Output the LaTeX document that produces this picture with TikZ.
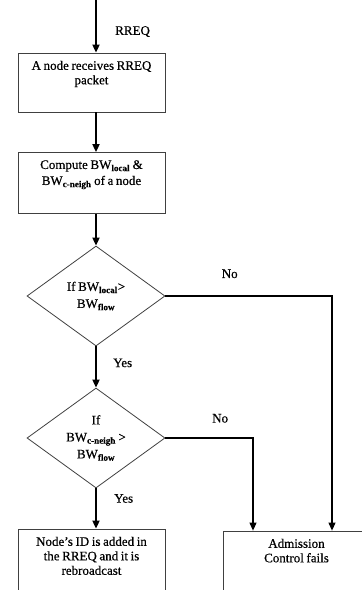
\documentclass[tikz,border=0pt]{standalone}
\usepackage{fontspec}
\setmainfont{Liberation Serif}[FakeBold=0.5,WordSpace=0.8]
\usetikzlibrary{shapes.geometric,arrows.meta}

\newcommand{\bwsub}[1]{BW\textsubscript{\textbf{#1}}}

\begin{document}
\begin{tikzpicture}[x=1pt,y=-1pt,
    font=\fontsize{13}{14.5}\selectfont,
    flow/.style={-{Triangle[length=8pt,width=7pt]},line width=1.8pt},
    side/.style={-{Triangle[length=8pt,width=7pt]},line width=1.1pt},
    stepbox/.style={draw=black!75,line width=0.8pt,minimum width=147pt,inner sep=0pt},
    boxtext/.style={anchor=north,align=center,inner sep=0pt,yshift=-8pt},
    test/.style={diamond,draw=black!75,line width=0.8pt,aspect=1.38,
        minimum width=138pt,minimum height=100pt,inner sep=0pt,align=center,
        font=\fontsize{13}{17}\selectfont}]
    \useasboundingbox (0,0) rectangle (362,590);
    \clip (0,0) rectangle (362,590);

    \coordinate (in) at (96,0);
    \node (recv) at (91.5,82.5) [stepbox,minimum height=59pt,
        label={[boxtext]north:A node receives RREQ\\packet}] {};
    \node (comp) at (91.5,183) [stepbox,minimum height=61pt,
        label={[boxtext]north:Compute \bwsub{local} \&\\[1.5pt]\bwsub{c-neigh} of a node}] {};
    \node (dec1) at (96,296) [test] {\raisebox{-3pt}{\begin{tabular}{@{}c@{}}If \bwsub{local}>\\\bwsub{flow}\end{tabular}}};
    \node (dec2) at (96,438) [test] {If\\\bwsub{c-neigh} >\\\bwsub{flow}};
    \node (add) at (91.5,569) [stepbox,minimum height=80pt,
        label={[boxtext]north:Node’s ID is added in\\the RREQ and it is\\rebroadcast}] {};
    \node (fail) at (296.5,571) [stepbox,minimum height=80pt,
        label={[boxtext]north:Admission\\Control fails}] {};

    \draw[flow] (in) -- (recv.north -| in) node[pos=0.6,right=15pt] {RREQ};
    \draw[flow] (recv.south -| in) -- (comp.north -| in);
    \draw[flow] (comp.south -| in) -- (dec1.north);
    \draw[flow] (dec1.south) -- (dec2.north) node[pos=0.4,right=13pt] {Yes};
    \draw[flow] (dec2.south) -- (add.north -| in) node[pos=0.25,right=14pt] {Yes};
    \draw[side] (dec1.east) -| ([xshift=35.5pt]fail.north) node[pos=0.193,above=14pt] {No};
    \draw[side] (dec2.east) -| ([xshift=-43.5pt]fail.north) node[pos=0.3125,above=11.5pt] {No};
\end{tikzpicture}
\end{document}
